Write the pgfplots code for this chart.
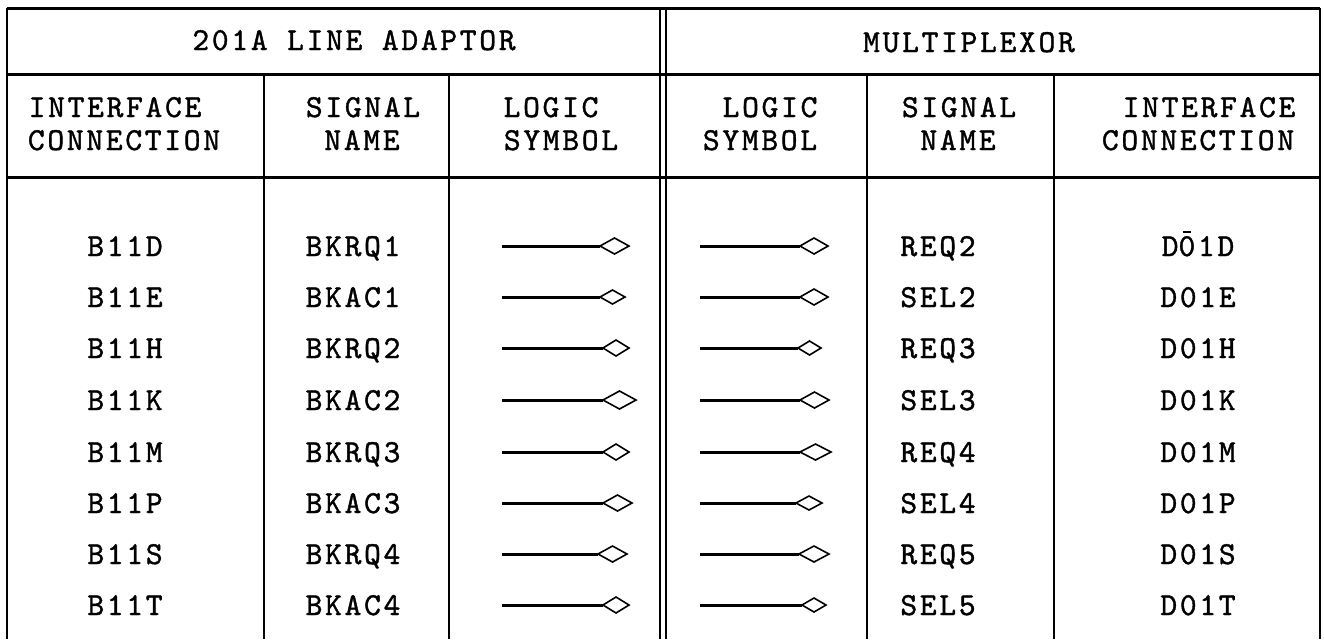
\documentclass[border=0pt]{standalone}
\usepackage{pgfplots}
\pgfplotsset{compat=1.18}
\usepackage{fontspec}
\newfontfamily\tw{lmmono10-regular}[Extension=.otf, LetterSpace=8.4, FakeBold=1.2]
\newcommand\tf{\tw\fontsize{16pt}{18pt}\selectfont}
\newcommand\zbar{\makebox[0pt][l]{\kern0.14em\raisebox{0.72em}{\rule{0.26em}{0.07em}}}0}
\begin{document}
\begin{tikzpicture}
\begin{axis}[
  width=662pt, height=319.5pt, scale only axis,
  xmin=0, xmax=1324, ymin=0, ymax=639, y dir=reverse,
  hide axis, clip=false,
  every axis plot/.append style={black, no marks},
  nodes={font=\tf, inner sep=0pt},
]
% --- table rules ---
\addplot[line width=1.5pt] coordinates {(7,8) (1320,8)};
\addplot[line width=1.5pt] coordinates {(7,74) (1320,74)};
\addplot[line width=1.5pt] coordinates {(7,177) (1320,177)};
\addplot[line width=1.3pt] coordinates {(7,8) (7,639)};
\addplot[line width=1.3pt] coordinates {(1320,8) (1320,639)};
\addplot[line width=1.2pt] coordinates {(660,8) (660,639)};
\addplot[line width=1.2pt] coordinates {(666,8) (666,639)};
\addplot[line width=1.1pt] coordinates {(264,74) (264,639)};
\addplot[line width=0.9pt] coordinates {(449,74) (449,639)};
\addplot[line width=0.8pt] coordinates {(867,74) (867,639)};
\addplot[line width=0.8pt] coordinates {(1054,74) (1054,639)};
% --- logic symbols, left ---
\addplot[line width=1.5pt] coordinates {(502,246) (600,246)};
\addplot[line width=0.8pt, line join=miter] coordinates {(600,246) (614.5,238) (629,246) (614.5,254) (600,246)};
\addplot[line width=1.5pt] coordinates {(502,297) (600,297)};
\addplot[line width=0.8pt, line join=miter] coordinates {(600,297) (612.5,290) (625,297) (612.5,304) (600,297)};
\addplot[line width=1.5pt] coordinates {(502,348) (603,348)};
\addplot[line width=0.8pt, line join=miter] coordinates {(603,348) (616,340) (629,348) (616,356) (603,348)};
\addplot[line width=1.5pt] coordinates {(502,400) (603,400)};
\addplot[line width=0.8pt, line join=miter] coordinates {(603,400) (619.5,391) (636,400) (619.5,409) (603,400)};
\addplot[line width=1.5pt] coordinates {(502,452) (603,452)};
\addplot[line width=0.8pt, line join=miter] coordinates {(603,452) (616,444) (629,452) (616,460) (603,452)};
\addplot[line width=1.5pt] coordinates {(502,503) (603,503)};
\addplot[line width=0.8pt, line join=miter] coordinates {(603,503) (617.5,495) (632,503) (617.5,511) (603,503)};
\addplot[line width=1.5pt] coordinates {(502,554) (598,554)};
\addplot[line width=0.8pt, line join=miter] coordinates {(598,554) (612.5,546) (627,554) (612.5,562) (598,554)};
\addplot[line width=1.5pt] coordinates {(502,605) (603,605)};
\addplot[line width=0.8pt, line join=miter] coordinates {(603,605) (616,597) (629,605) (616,613) (603,605)};
% --- logic symbols, right ---
\addplot[line width=1.5pt] coordinates {(700,246) (800,246)};
\addplot[line width=0.8pt, line join=miter] coordinates {(800,246) (814,238) (828,246) (814,254) (800,246)};
\addplot[line width=1.5pt] coordinates {(700,297) (800,297)};
\addplot[line width=0.8pt, line join=miter] coordinates {(800,297) (814,289) (828,297) (814,305) (800,297)};
\addplot[line width=1.5pt] coordinates {(700,348) (798,348)};
\addplot[line width=0.8pt, line join=miter] coordinates {(798,348) (809.5,341) (821,348) (809.5,355) (798,348)};
\addplot[line width=1.5pt] coordinates {(700,400) (800,400)};
\addplot[line width=0.8pt, line join=miter] coordinates {(800,400) (814.5,392) (829,400) (814.5,408) (800,400)};
\addplot[line width=1.5pt] coordinates {(700,452) (800,452)};
\addplot[line width=0.8pt, line join=miter] coordinates {(800,452) (815.5,444) (831,452) (815.5,460) (800,452)};
\addplot[line width=1.5pt] coordinates {(700,503) (796,503)};
\addplot[line width=0.8pt, line join=miter] coordinates {(796,503) (809,496) (822,503) (809,510) (796,503)};
\addplot[line width=1.5pt] coordinates {(700,554) (799,554)};
\addplot[line width=0.8pt, line join=miter] coordinates {(799,554) (814,546) (829,554) (814,562) (799,554)};
\addplot[line width=1.5pt] coordinates {(700,605) (802,605)};
\addplot[line width=0.8pt, line join=miter] coordinates {(802,605) (814,598) (826,605) (814,612) (802,605)};
% --- headers ---
\node[anchor=base] at (axis cs:354,50) {201A LINE ADAPTOR};
\node[anchor=base] at (axis cs:969,52) {MULTIPLEXOR};
\node[anchor=base] at (axis cs:115,117) {INTERFACE};
\node[anchor=base] at (axis cs:124,150) {CONNECTION};
\node[anchor=base] at (axis cs:363,117) {SIGNAL};
\node[anchor=base] at (axis cs:362,150) {NAME};
\node[anchor=base] at (axis cs:551,117) {LOGIC};
\node[anchor=base] at (axis cs:561,150) {SYMBOL};
\node[anchor=base] at (axis cs:770,117) {LOGIC};
\node[anchor=base] at (axis cs:760,150) {SYMBOL};
\node[anchor=base] at (axis cs:959,117) {SIGNAL};
\node[anchor=base] at (axis cs:958,150) {NAME};
\node[anchor=base] at (axis cs:1209,117) {INTERFACE};
\node[anchor=base] at (axis cs:1198,150) {CONNECTION};
% --- body ---
\node[anchor=base] at (axis cs:125,256) {B11D};
\node[anchor=base] at (axis cs:125,307) {B11E};
\node[anchor=base] at (axis cs:125,358) {B11H};
\node[anchor=base] at (axis cs:125,410) {B11K};
\node[anchor=base] at (axis cs:125,462) {B11M};
\node[anchor=base] at (axis cs:125,513) {B11P};
\node[anchor=base] at (axis cs:125,564) {B11S};
\node[anchor=base] at (axis cs:125,615) {B11T};
\node[anchor=base] at (axis cs:353,256) {BKRQ1};
\node[anchor=base] at (axis cs:353,307) {BKAC1};
\node[anchor=base] at (axis cs:353,358) {BKRQ2};
\node[anchor=base] at (axis cs:353,410) {BKAC2};
\node[anchor=base] at (axis cs:353,462) {BKRQ3};
\node[anchor=base] at (axis cs:353,513) {BKAC3};
\node[anchor=base] at (axis cs:353,564) {BKRQ4};
\node[anchor=base] at (axis cs:353,615) {BKAC4};
\node[anchor=base] at (axis cs:938,256) {REQ2};
\node[anchor=base] at (axis cs:938,307) {SEL2};
\node[anchor=base] at (axis cs:938,358) {REQ3};
\node[anchor=base] at (axis cs:938,410) {SEL3};
\node[anchor=base] at (axis cs:938,462) {REQ4};
\node[anchor=base] at (axis cs:938,513) {SEL4};
\node[anchor=base] at (axis cs:938,564) {REQ5};
\node[anchor=base] at (axis cs:938,615) {SEL5};
\node[anchor=base] at (axis cs:1198,256) {D\zbar1D};
\node[anchor=base] at (axis cs:1198,307) {D01E};
\node[anchor=base] at (axis cs:1198,358) {D01H};
\node[anchor=base] at (axis cs:1198,410) {D01K};
\node[anchor=base] at (axis cs:1198,462) {D01M};
\node[anchor=base] at (axis cs:1198,513) {D01P};
\node[anchor=base] at (axis cs:1198,564) {D01S};
\node[anchor=base] at (axis cs:1198,615) {D01T};
\end{axis}
\pgfresetboundingbox
\path (current axis.south west) rectangle (current axis.north east);
\end{tikzpicture}
\end{document}
